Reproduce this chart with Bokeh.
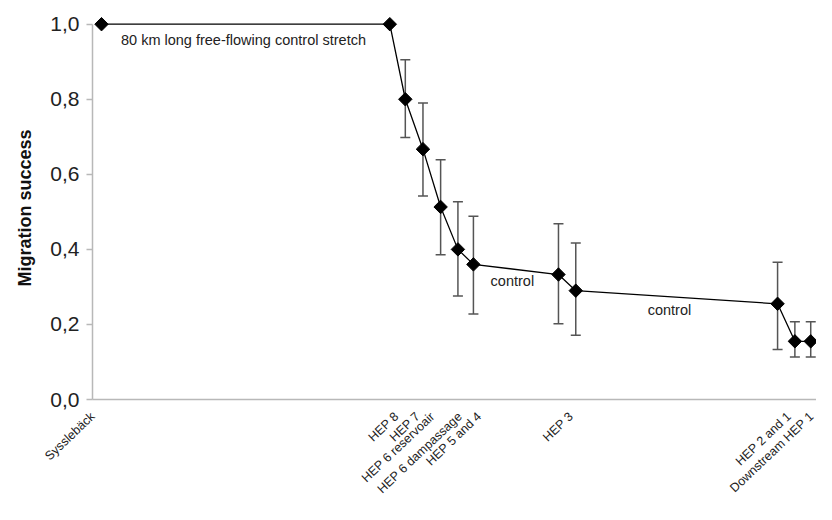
import math
from bokeh.plotting import figure
from bokeh.models import Range1d, FixedTicker, Whisker, TeeHead, ColumnDataSource
from bokeh.core.properties import value
from bokeh.embed import file_html
from bokeh.resources import INLINE

# distance along the river (km) of each survey point
km = [0, 80, 84.3, 89.2, 94.1, 98.9, 103.2, 126.8, 131.6, 187.6, 192.4, 196.8]
success = [1.0, 1.0, 0.80, 0.667, 0.513, 0.40, 0.36, 0.333, 0.29, 0.255, 0.155, 0.155]

# error bars (points with confidence intervals)
err_km = [84.3, 89.2, 94.1, 98.9, 103.2, 126.8, 131.6, 187.6, 192.4, 196.8]
err_upper = [0.905, 0.790, 0.639, 0.527, 0.488, 0.468, 0.417, 0.366, 0.207, 0.207]
err_lower = [0.698, 0.542, 0.386, 0.276, 0.228, 0.202, 0.171, 0.133, 0.113, 0.113]

# site labels along the x axis
site_km = [-2.4, 81.9, 87.8, 91.9, 99.5, 104.9, 130.3, 190.8, 197.3]
site_labels = ["Sysslebäck", "HEP 8", "HEP 7", "HEP 6 reservoair", "HEP 6 dampassage",
               "HEP 5 and 4", "HEP 3", "HEP 2 and 1", "Downstream HEP 1"]

y_ticks = [0.0, 0.2, 0.4, 0.6, 0.8, 1.0]
y_tick_labels = ["0,0", "0,2", "0,4", "0,6", "0,8", "1,0"]

notes = ["80 km long free-flowing control stretch", "control", "control"]
note_km = [5.4, 114.0, 157.6]
note_y = [0.959, 0.315, 0.238]
note_align = ["left", "center", "center"]

FONT = "Liberation Sans"

p = figure(width=816, height=504, output_backend="svg", toolbar_location=None,
           x_range=Range1d(-2.5, 198.4), y_range=Range1d(0, 1.0205),
           min_border_left=92, min_border_right=0, min_border_top=16, min_border_bottom=89)
p.outline_line_color = None
p.xgrid.grid_line_color = None
p.ygrid.grid_line_color = None
p.background_fill_color = "white"
p.border_fill_color = "white"

# axes
p.xaxis.ticker = FixedTicker(ticks=site_km)
p.xaxis.major_label_overrides = {k: l for k, l in zip(site_km, site_labels)}
p.xaxis.major_label_orientation = 0.76
p.xaxis.major_tick_line_color = None
p.xaxis.minor_tick_line_color = None
p.xaxis.axis_line_color = "#b8b8b8"
p.xaxis.axis_line_width = 1.5
p.xaxis.major_label_text_font = FONT
p.xaxis.major_label_text_font_size = "12.5px"
p.xaxis.major_label_text_color = "#222222"
p.xaxis.major_label_standoff = 9

p.yaxis.ticker = FixedTicker(ticks=y_ticks)
p.yaxis.major_label_overrides = {t: l for t, l in zip(y_ticks, y_tick_labels)}
p.yaxis.bounds = (0, 1.0)
p.yaxis.axis_line_color = "#b8b8b8"
p.yaxis.axis_line_width = 1.5
p.yaxis.major_tick_line_color = "#b8b8b8"
p.yaxis.major_tick_line_width = 1.5
p.yaxis.major_tick_out = 6
p.yaxis.major_tick_in = 0
p.yaxis.minor_tick_line_color = None
p.yaxis.major_label_text_font = FONT
p.yaxis.major_label_text_font_size = "21px"
p.yaxis.major_label_text_color = "#222222"
p.yaxis.major_label_standoff = 7
p.yaxis.axis_label = "Migration success"
p.yaxis.axis_label_text_font = FONT
p.yaxis.axis_label_text_font_style = "bold"
p.yaxis.axis_label_text_font_size = "18px"
p.yaxis.axis_label_text_color = "#111111"
p.yaxis.axis_label_standoff = 12

# error bars
err_src = ColumnDataSource(dict(x=err_km, upper=err_upper, lower=err_lower))
w = Whisker(source=err_src, base="x", upper="upper", lower="lower", dimension="height",
            line_color="#555555", line_width=1.5,
            upper_head=TeeHead(size=10, line_color="#555555", line_width=1.5),
            lower_head=TeeHead(size=10, line_color="#555555", line_width=1.5))
p.add_layout(w)

# line + diamonds
src = ColumnDataSource(dict(x=km, y=success))
p.line("x", "y", source=src, line_color="black", line_width=1.3)
p.scatter("x", "y", source=src, marker="square", angle=math.pi / 4, size=9.5,
          fill_color="black", line_color="black")

# annotations
nsrc = ColumnDataSource(dict(x=note_km, y=note_y, t=notes, a=note_align))
p.text("x", "y", text="t", source=nsrc, text_align="a", text_baseline="middle",
       text_font=value(FONT), text_font_size="14.5px", text_color="#222222")

open("out.html", "w").write(file_html(p, INLINE))
